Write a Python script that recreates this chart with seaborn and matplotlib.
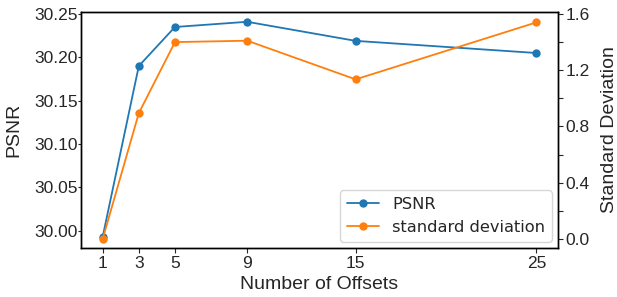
import matplotlib
matplotlib.use("Agg")
import matplotlib.pyplot as plt
import seaborn as sns
import pandas as pd
from matplotlib.ticker import MultipleLocator

offsets = [1, 3, 5, 9, 15, 25]
psnr = [29.993, 30.190, 30.235, 30.241, 30.219, 30.205]
std_dev = [0.0, 0.895, 1.40, 1.41, 1.135, 1.54]

sns.set_theme(style="ticks")
plt.rcParams['font.family'] = ['Liberation Sans', 'DejaVu Sans']

df = pd.DataFrame({"offsets": offsets, "psnr": psnr, "std": std_dev})

fig = plt.figure(figsize=(6.17, 2.97), dpi=100)
ax = fig.add_axes([81/617, 1 - 248/297, (558-81)/617, (248-12)/297])
ax2 = ax.twinx()

c1 = "#1f77b4"
c2 = "#ff7f0e"
sns.lineplot(data=df, x="offsets", y="psnr", ax=ax, color=c1, marker="o",
             markersize=6, markeredgewidth=0, linewidth=1.3, label="PSNR", legend=False)
sns.lineplot(data=df, x="offsets", y="std", ax=ax2, color=c2, marker="o",
             markersize=6, markeredgewidth=0, linewidth=1.3, label="standard deviation", legend=False)

ax.set_xticks(offsets)
ax.set_xticklabels([str(o) for o in offsets])
ax.set_xlim(-0.2, 26.2)
ax.set_ylim(29.980, 30.2523)
ax.set_yticks([30.00, 30.05, 30.10, 30.15, 30.20, 30.25])
ax.set_yticklabels(["30.00", "30.05", "30.10", "30.15", "30.20", "30.25"])
ax2.set_ylim(-0.064, 1.614)
ax2.set_yticks([0.0, 0.4, 0.8, 1.2, 1.6])
ax2.yaxis.set_minor_locator(MultipleLocator(0.2))
ax2.set_yticklabels(["0.0", "0.4", "0.8", "1.2", "1.6"])

ax.set_xlabel("Number of Offsets", fontsize=14, labelpad=4)
ax.set_ylabel("PSNR", fontsize=14, labelpad=8)
ax2.set_ylabel("Standard Deviation", fontsize=14, labelpad=8)

ax.tick_params(axis="y", labelsize=12.5, length=2, pad=0.5, width=0.8)
ax.tick_params(axis="x", labelsize=12.5, length=3.5, pad=2, width=0.8)
ax2.tick_params(axis="y", which="major", labelsize=12.5, length=3.5, pad=2, width=0.8)
ax2.tick_params(axis="y", which="minor", length=3.5, width=0.8)

for a in (ax, ax2):
    for s in a.spines.values():
        s.set_visible(True)
        s.set_color("black")
        s.set_linewidth(1.0)
    a.grid(False)

lines = ax.get_lines() + ax2.get_lines()
labels = [l.get_label() for l in lines]
ax.legend(lines, labels, loc="lower right", prop={"family": "DejaVu Sans", "size": 11.7},
          frameon=True, fancybox=True, framealpha=0.8, edgecolor="#cccccc",
          borderaxespad=0.4)

fig.savefig("out.png", dpi=100)
